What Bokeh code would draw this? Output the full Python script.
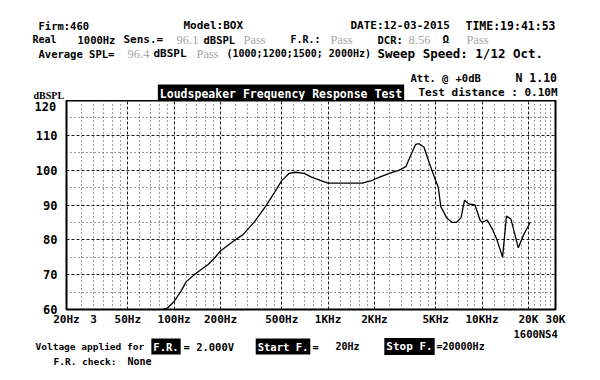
from bokeh.plotting import figure
from bokeh.layouts import column
from bokeh.models import Label, FixedTicker, Range1d, Text
from bokeh.core.properties import value
from bokeh.embed import file_html
from bokeh.resources import INLINE

# ---- data ----
freq_hz = [68, 80, 91, 100, 110, 120, 135, 150, 167, 185,
           200, 225, 250, 280, 330, 390, 450, 500, 560, 610,
           700, 780, 900, 1000, 1270, 1670, 1940, 2160, 2500, 2900,
           3200, 3500, 3700, 3900, 4200, 4550, 4900, 5200, 5400, 5900,
           6400, 6800, 7300, 7700, 8200, 9000, 9700, 10000, 10800, 11700,
           12500, 13600, 14400, 15400, 17200, 18600, 20600]
spl_db = [59.5, 59.7, 60.5, 62.3, 65, 68, 70, 71.5, 73, 75,
          76.8, 78.5, 80, 81.5, 85, 89.4, 93.7, 97, 99.1, 99.4,
          99.1, 98, 97, 96.3, 96.3, 96.3, 97.1, 98, 99.1, 100,
          101, 105, 107.4, 107.6, 106.6, 102, 98, 95, 89.5, 86.3,
          85, 85, 86.3, 91.4, 90.3, 90, 85.7, 85, 85.7, 83,
          80, 75, 86.8, 86, 77.7, 81.4, 85.1]

y_ticks = [60, 70, 80, 90, 100, 110]
y_top_label = "120"
y_grid_major = [60, 70, 80, 90, 100, 110, 120]
y_grid_minor = [65, 75, 85, 95, 105, 115]
x_tick_freqs = [20, 30, 50, 100, 200, 500, 1000, 2000, 5000, 10000, 20000, 30000]
x_tick_labels = ["20Hz", "3", "50Hz", "100Hz", "200Hz", "500Hz", "1KHz", "2KHz",
                 "5KHz", "10KHz", "20K", "30K"]
x_major_grid = [20, 50, 100, 200, 500, 1000, 2000, 5000, 10000, 20000, 30000]
x_minor_step = [5, 10, 20, 50, 100, 200, 500, 1000, 2000, 2000]

x_minor = []
for a, b, s in zip(x_major_grid[:-1], x_major_grid[1:], x_minor_step):
    v = a + s
    while v < b - 1e-9:
        x_minor.append(v)
        v += s

MONO = "DejaVu Sans Mono"
SERIF = "Liberation Serif"
GREY = "#a6a6a6"
HAS_BG = "background_fill_color" in Text.properties()

W = 600
HEAD_H, CHART_H, FOOT_H = 100, 228, 52


def text_fig(y0, h):
    f = figure(width=W, height=h, x_range=Range1d(0, W), y_range=Range1d(y0 + h, y0),
               output_backend="svg", toolbar_location=None, frame_align=False,
               x_axis_location=None, y_axis_location=None,
               min_border_left=0, min_border_right=0, min_border_top=0, min_border_bottom=0)
    f.grid.visible = False
    f.outline_line_color = None
    f.background_fill_color = "white"
    f.border_fill_color = "white"
    return f


def put(f, items, font=MONO, style="bold", color="black", align="left", **kw):
    f.text(x=[i[0] for i in items], y=[i[1] for i in items], text=[i[2] for i in items],
           text_font_size=["%spx" % i[3] for i in items],
           text_font=value(font), text_font_style=value(style),
           text_color=color, text_align=align, text_baseline="middle", **kw)


def boxes(f, items):
    if HAS_BG:
        put(f, items, color="white", align="center", background_fill_color="black", padding=2)
    else:
        put(f, items, color="white", align="center")


# ---------------- header ----------------
head = text_fig(0, HEAD_H)
put(head, [(38, 25, "Firm:460", 10.5), (183, 25, "Model:BOX", 11),
           (350, 25, "DATE:12-03-2015", 11), (465, 25, "TIME:19:41:53", 11.5),
           (32, 39, "Real", 10), (77, 39, "1000Hz", 10.5), (123, 39, "Sens.=", 11),
           (203, 39, "dBSPL", 10.5), (290, 39, "F.R.:", 10), (377, 39, "DCR:", 10.5),
           (442, 39, "Ω", 11),
           (38, 53, "Average SPL=", 10.5), (153, 53, "dBSPL", 11),
           (226, 53, "(1000;1200;1500; 2000Hz)", 10),
           (377, 53, "Sweep Speed: 1/12 Oct.", 12.5),
           (410, 77, "Att. @", 10.5), (455, 77, "+0dB", 10.5), (515, 77, "N 1.10", 11.5),
           (418, 92, "Test distance : 0.10M", 11)])
put(head, [(176, 39, "96.1", 12.5), (243, 39, "Pass", 12.5), (330, 39, "Pass", 12.5),
           (408, 39, "8.56", 12.5), (466, 39, "Pass", 12.5), (127, 53, "96.4", 12.5),
           (196, 53, "Pass", 12.5)],
    font=SERIF, style="normal", color=GREY)
put(head, [(33, 95, "dBSPL", 10)], font=SERIF)
boxes(head, [(280.5, 93, "Loudspeaker Frequency Response Test", 11.5)])

# ---------------- chart ----------------
p = figure(width=W, height=CHART_H, x_axis_type="log", x_range=(20, 30000), y_range=(60, 120),
           output_backend="svg", toolbar_location=None, frame_align=False,
           min_border_left=66, min_border_right=45, min_border_top=0, min_border_bottom=18)
p.background_fill_color = "white"
p.border_fill_color = "white"
p.outline_line_color = "black"
p.outline_line_width = 2

p.xaxis.ticker = FixedTicker(ticks=x_tick_freqs)
p.xaxis.major_label_overrides = {f: l for f, l in zip(x_tick_freqs, x_tick_labels)}
p.yaxis.ticker = FixedTicker(ticks=y_ticks)
for ax in (p.xaxis, p.yaxis):
    ax.axis_line_color = None
    ax.major_tick_line_color = None
    ax.minor_tick_line_color = None
    ax.major_tick_out = 0
    ax.major_tick_in = 0
    ax.minor_tick_out = 0
    ax.minor_tick_in = 0
    ax.major_label_text_font = MONO
    ax.major_label_text_font_style = "bold"
    ax.major_label_text_color = "black"
p.xaxis.major_label_text_font_size = "11px"
p.yaxis.major_label_text_font_size = "12px"
p.xaxis.major_label_standoff = 3
p.yaxis.major_label_standoff = 9

p.xgrid.ticker = FixedTicker(ticks=x_major_grid, minor_ticks=x_minor)
p.ygrid.ticker = FixedTicker(ticks=y_grid_major, minor_ticks=y_grid_minor)
for g in (p.xgrid, p.ygrid):
    g.grid_line_color = "#1a1a1a"
    g.grid_line_dash = "3 2"
    g.grid_line_width = 1
    g.minor_grid_line_color = "#3a3a3a"
    g.minor_grid_line_dash = "1 3"
    g.minor_grid_line_width = 1

p.line(freq_hz, spl_db, line_color="black", line_width=1.3)

# top tick label lives in the left side panel (it sits just under the top edge)
p.add_layout(Label(x=24, y=203, x_units="screen", y_units="screen", text=y_top_label,
                   text_font=MONO, text_font_size="12px", text_font_style="bold",
                   text_color="black", text_align="left", text_baseline="middle"), "left")

# ---------------- footer ----------------
foot = text_fig(HEAD_H + CHART_H, FOOT_H)
put(foot, [(513, 333, "1600NS4", 10.5),
           (35, 346, "Voltage applied for", 9.5), (183, 346, "= 2.000V", 10.5),
           (312, 346, "=", 10.5), (335, 346, "20Hz", 10), (436, 346, "=20000Hz", 10),
           (53, 361, "F.R. check:", 9.5), (127, 361, "None", 10)])
boxes(foot, [(165.5, 346, "F.R.", 10.5), (282.5, 346, "Start F.", 10.5),
             (409, 346, "Stop F.", 11)])

layout = column(head, p, foot, spacing=0)
open("out.html", "w").write(file_html(layout, INLINE))
